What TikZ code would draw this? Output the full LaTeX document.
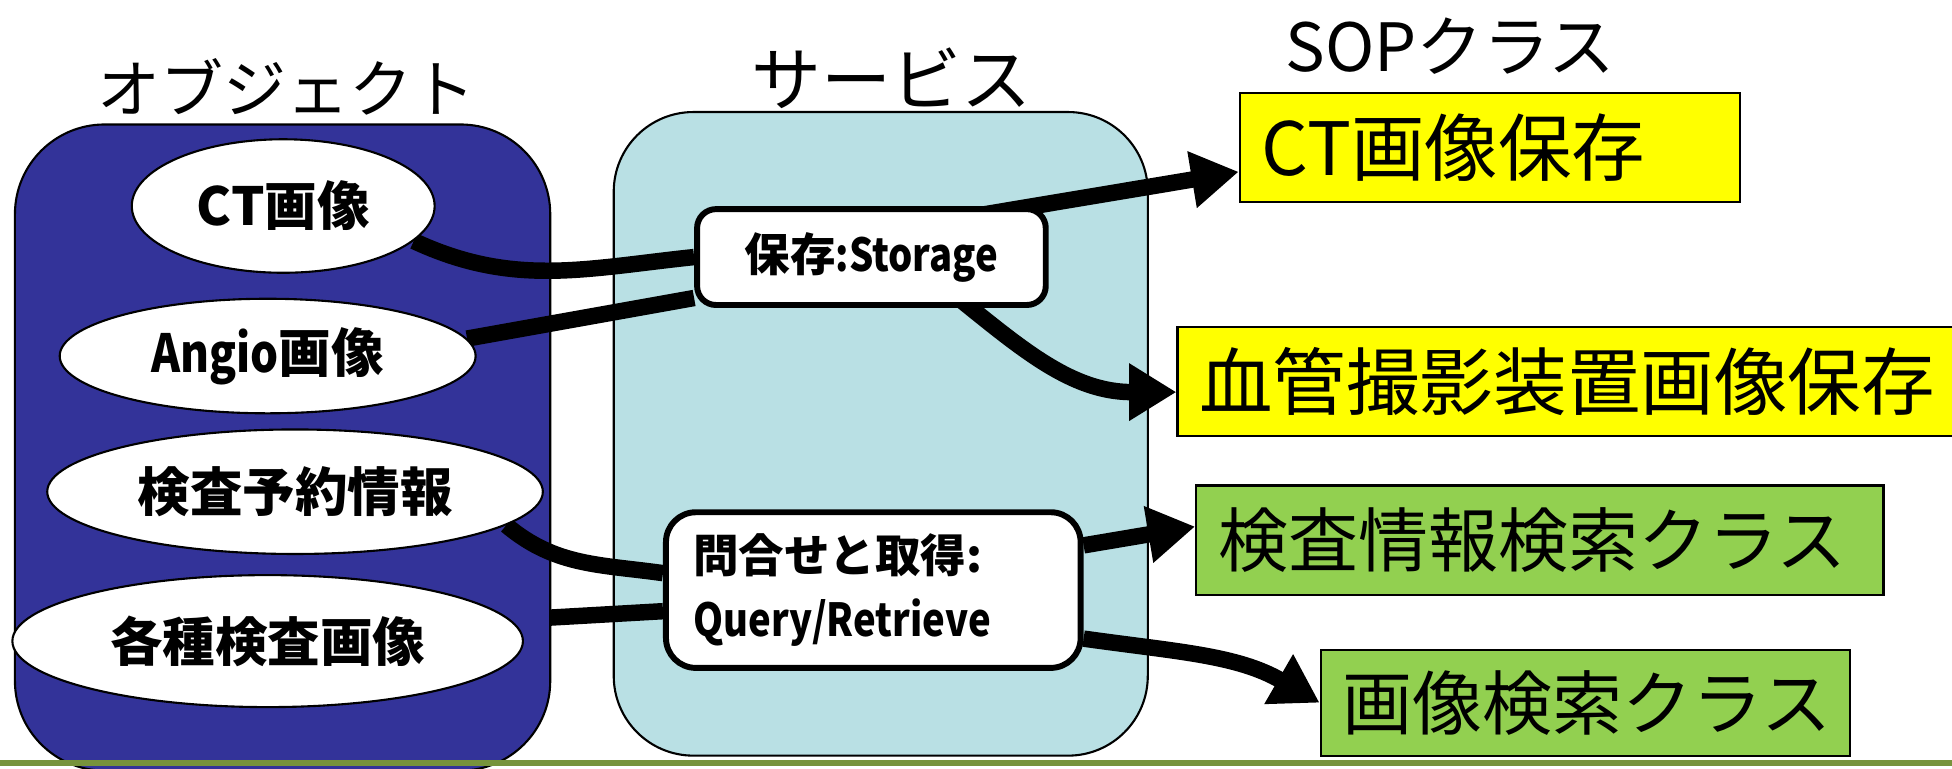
\documentclass[tikz,border=0pt]{standalone}
\usepackage{fontspec}
\setmainfont{Noto Sans CJK JP}
\newfontfamily\narrowlat[FakeStretch=0.84]{Noto Sans CJK JP}
\usetikzlibrary{shapes.geometric,arrows.meta}

\definecolor{objblue}{RGB}{51,51,153}
\definecolor{svccyan}{RGB}{185,224,228}
\definecolor{sopyellow}{RGB}{255,255,0}
\definecolor{sopgreen}{RGB}{146,208,80}
\definecolor{baseolive}{RGB}{119,147,60}

\pgfdeclarelayer{back}
\pgfdeclarelayer{mid}
\pgfsetlayers{back,mid,main}

\newcommand{\fsz}[2]{\fontsize{#1}{#2}\selectfont}

\begin{document}
\begin{tikzpicture}[x=0.0125cm, y=0.0125cm,
    objnode/.style={ellipse, draw, line width=0.6pt, fill=white, inner sep=0pt, font=\fsz{15pt}{18pt}\bfseries},
    svcnode/.style={draw, line width=1.7pt, fill=white, font=\fsz{13pt}{18.3pt}\bfseries},
    sopnode/.style={draw, line width=0.6pt, anchor=west, align=left, inner xsep=0.22cm, inner ysep=0pt},
    link/.style={line width=4.7pt},
    flow/.style={line width=4.7pt, -{Triangle[length=13.5pt,width=15.5pt]}}]
    \useasboundingbox (0,0) rectangle (1568,617);

    % titles
    \node[font=\fsz{18pt}{21pt}] (objtitle) at (230,547) {オブジェクト};
    \node[font=\fsz{20pt}{23pt}] (svctitle) at (716,554) {サービス};
    \node[font=\fsz{19pt}{22pt}] (soptitle) at (1165,580) {SOPクラス};

    % objects
    \node[objnode, minimum width=3.04cm, minimum height=1.34cm] (ct) at (227.5,451.5) {CT画像};
    \node[objnode, minimum width=4.175cm, minimum height=1.15cm] (an) at (215,331) {{\narrowlat Angio}画像};
    \node[objnode, minimum width=4.975cm, minimum height=1.25cm] (yoy) at (237,222) {検査予約情報};
    \node[objnode, minimum width=5.125cm, minimum height=1.325cm] (kakushu) at (215,102) {各種検査画像};

    % services
    \node[svcnode, rounded corners=0.19cm, minimum width=3.5cm, minimum height=0.9625cm, inner sep=0pt] (stor) at (700,410.5) {保存{\narrowlat :Storage}};
    \node[svcnode, rounded corners=0.3cm, align=left, text width=3.6125cm, inner xsep=0.275cm, minimum height=1.5625cm] (qr) at (701.5,143) {問合せと取得:\\{\narrowlat Query/Retrieve}};

    % SOP classes
    \node[sopnode, fill=sopyellow, text width=4.585cm, minimum height=1.0875cm, font=\fsz{21pt}{24pt}] (ctsave) at (995,498.5) {CT画像保存};
    \node[sopnode, fill=sopyellow, text width=7.35cm, minimum height=1.0875cm, font=\fsz{21pt}{24pt}] (blood) at (945,310.5) {血管撮影装置画像保存};
    \node[sopnode, fill=sopgreen, text width=6.46cm, minimum height=1.1cm, font=\fsz{20pt}{23pt}] (kensa) at (960,183) {検査情報検索クラス};
    \node[sopnode, fill=sopgreen, text width=4.8725cm, minimum height=1.0625cm, font=\fsz{20pt}{23pt}] (gazo) at (1060,52.5) {画像検索クラス};

    \begin{pgfonlayer}{back}
        \draw[line width=0.6pt, fill=svccyan, rounded corners=0.8cm] (493,10) rectangle (922,527);
        \draw[link] (kakushu.5) -- ([yshift=-0.212cm]qr.west);
        \draw[line width=0.6pt, fill=objblue, rounded corners=0.9cm] (12,-2) rectangle (442,517);
    \end{pgfonlayer}

    \begin{pgfonlayer}{mid}
        \draw[link] (ct.-15) to[out=-25, in=186] (stor.west);
        \draw[link] (an.5) -- (stor.-167);
        \draw[flow] ([yshift=0.24cm]stor.center) -- ([yshift=-0.244cm]ctsave.west);
        \draw[flow] ([xshift=0.35cm]stor.center) to[out=-37, in=180] ([yshift=-0.106cm]blood.west);
        \draw[link] (yoy.-9) to[out=-40, in=172] ([yshift=0.17cm]qr.west);
        \draw[flow] (qr.12) -- ([yshift=0.1375cm]kensa.west);
        \draw[flow] (qr.-13) to[out=-8, in=150] (gazo.west);
    \end{pgfonlayer}

    \draw[baseolive, line width=1.5pt] (0,4) -- (1568,4);
\end{tikzpicture}
\end{document}
